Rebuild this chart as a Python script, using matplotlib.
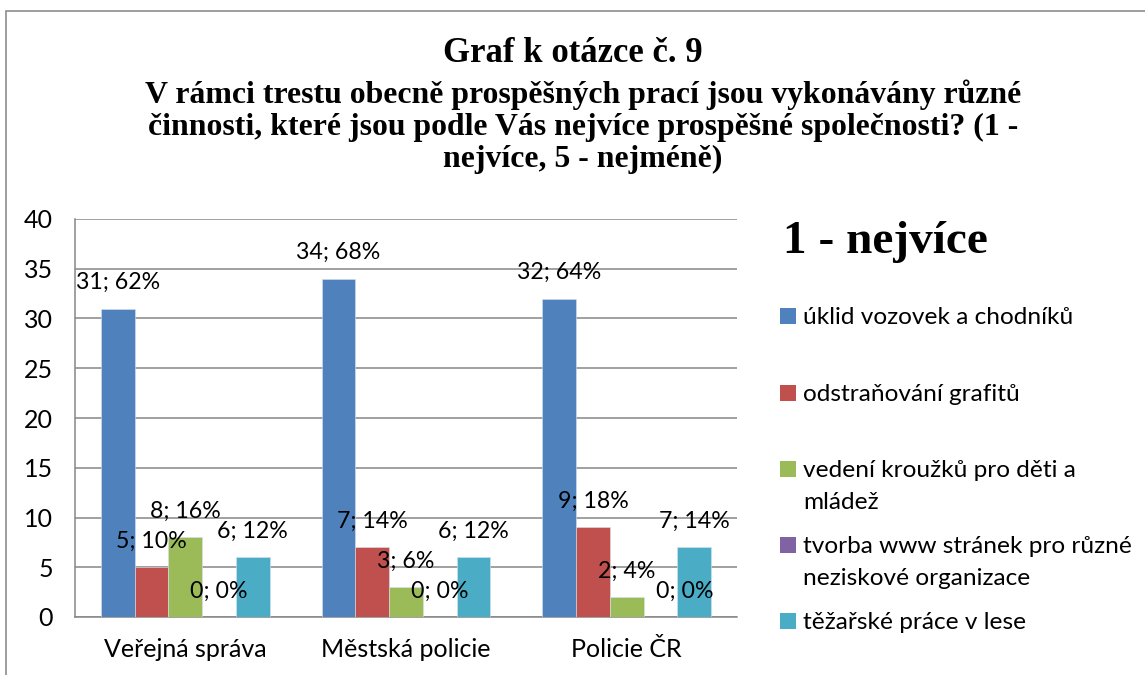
import matplotlib.pyplot as plt
from matplotlib.patches import Rectangle
import numpy as np

# data
categories = ['Veřejná správa', 'Městská policie', 'Policie ČR']
series = ['úklid vozovek a chodníků',
          'odstraňování grafitů',
          'vedení kroužků pro děti a\nmládež',
          'tvorba www stránek pro různé\nneziskové organizace',
          'těžařské práce v lese']
counts = [[31, 34, 32],
          [5, 7, 9],
          [8, 3, 2],
          [0, 0, 0],
          [6, 6, 7]]
percents = [[62, 68, 64],
            [10, 14, 18],
            [16, 6, 4],
            [0, 0, 0],
            [12, 12, 14]]
colors = ['#4F81BD', '#C0504D', '#9BBB59', '#8064A2', '#4BACC6']

W, H = 1145, 675
sans = ['Lato', 'DejaVu Sans']
serif = ['Liberation Serif', 'DejaVu Serif']
fs_axis = 18
fs_lab = 16.7
fs_leg = 17.6
grey = '#868686'

fig = plt.figure(figsize=(W / 100, H / 100), dpi=100)
ax = fig.add_axes([75 / W, 58 / H, 662 / W, 398 / H])

# outer chart border (only left/top visible in the reference)
fig.patches.append(Rectangle((6 / W, -0.1), 2, 1.1 - 11 / H,
                             transform=fig.transFigure, fill=False,
                             edgecolor='#8c8c8c', lw=1.2))

x = np.arange(len(categories))
w = 0.153
nudge = {(3, 2): 24}  # excel moved this label sideways
for i, name in enumerate(series):
    xs = x + (i - 2) * w
    ax.bar(xs, counts[i], w, color=colors[i], edgecolor='#d8e2ef',
           linewidth=0.4, zorder=3)
    for j in range(len(categories)):
        ax.annotate(f'{counts[i][j]}; {percents[i][j]}%',
                    xy=(xs[j], counts[i][j]),
                    xytext=(nudge.get((i, j), 0), 26),
                    textcoords='offset pixels', ha='center', va='center',
                    fontsize=fs_lab, family=sans, zorder=4)

ax.set_xlim(-0.5, 2.5)
ax.set_ylim(0, 40)
ax.set_yticks(range(0, 41, 5))
ax.set_xticks(x)
ax.set_xticklabels(categories, family=sans, fontsize=fs_axis)
for t in ax.get_yticklabels():
    t.set_family(sans)
    t.set_fontsize(fs_axis)
ax.tick_params(axis='y', length=0, pad=16)
ax.tick_params(axis='x', length=0, pad=15)
ax.grid(axis='y', color=grey, lw=1.1, zorder=0)
ax.set_axisbelow(True)
for s in ['top', 'right']:
    ax.spines[s].set_visible(False)
for s in ['left', 'bottom']:
    ax.spines[s].set_color(grey)
    ax.spines[s].set_linewidth(1.1)

# titles
fig.text(573 / W, 1 - 62 / H, 'Graf k otázce č. 9', ha='center',
         va='baseline', family=serif, weight='bold', fontsize=25)
sub = ['V rámci trestu obecně prospěšných prací jsou vykonávány různé',
       'činnosti, které jsou podle Vás nejvíce prospěšné společnosti? (1 -',
       'nejvíce, 5 - nejméně)']
for k, line in enumerate(sub):
    fig.text(583 / W, 1 - (103 + 32 * k) / H, line, ha='center',
             va='baseline', family=serif, weight='bold', fontsize=22.9)

# legend drawn by hand so the square lines up with the first text line
fig.text(783 / W, 1 - 253 / H, '1 - nejvíce', ha='left', va='baseline',
         family=serif, weight='bold', fontsize=34)
leg_base = [324, 401, 477, 553, 629]
for i, name in enumerate(series):
    b = leg_base[i]
    fig.patches.append(Rectangle((780 / W, 1 - b / H), 16 / W, 16 / H,
                                 transform=fig.transFigure,
                                 facecolor=colors[i], edgecolor='none'))
    for k, line in enumerate(name.split('\n')):
        fig.text(803 / W, 1 - (b + 32 * k) / H, line, ha='left',
                 va='baseline', family=sans, fontsize=fs_leg)

fig.savefig('out.png', dpi=100)
